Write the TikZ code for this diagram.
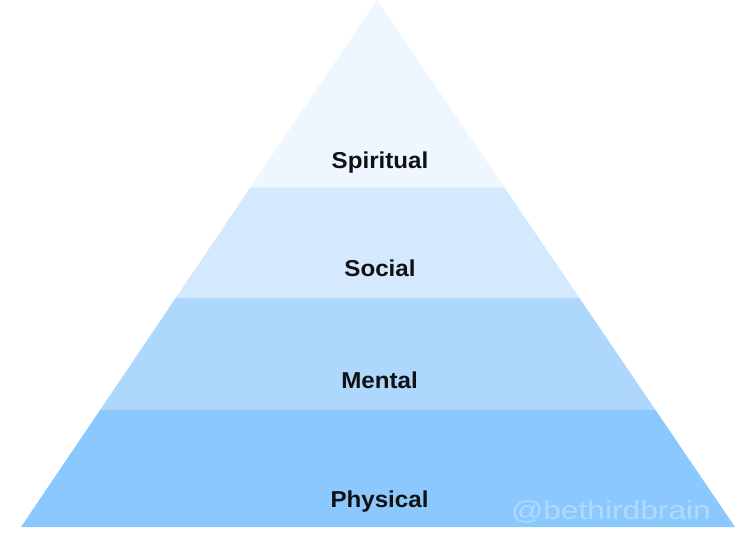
\documentclass[tikz,border=0pt]{standalone}
\usepackage{fontspec}
\setmainfont{Liberation Sans}
\newfontfamily\layerfont[FakeStretch=1.05]{Liberation Sans}
\newfontfamily\markfont[FakeStretch=1.22]{Liberation Sans}
\usepackage{xcolor}
\usepackage{tikz}
\usetikzlibrary{calc}

\definecolor{spiritcol}{HTML}{EEF6FF}
\definecolor{socialcol}{HTML}{D4E9FE}
\definecolor{mentalcol}{HTML}{ADD7FD}
\definecolor{physcol}{HTML}{8AC8FE}
\definecolor{labelcol}{HTML}{111111}

\begin{document}
\begin{tikzpicture}[x=1pt,y=-1pt,
    layer/.style={font=\layerfont\bfseries\fontsize{23}{27}\selectfont,
        text=labelcol, anchor=base, inner sep=0pt},
    watermark/.style={font=\markfont\fontsize{26}{30}\selectfont,
        text=white, text opacity=0.32, anchor=base, inner sep=0pt}]
    \useasboundingbox (0,0) rectangle (752,546);

    % Corners of the pyramid
    \coordinate (apex) at (377,0);
    \coordinate (bl) at (21,527);
    \coordinate (br) at (735,527);

    % Bands, top to bottom (heights in px from the apex)
    \foreach \ya/\yb/\col in {0/187.5/spiritcol, 187.5/297.5/socialcol,
                              297.5/410/mentalcol, 410/527/physcol} {
        \fill[\col] ($(apex)!{\ya/527}!(bl)$) -- ($(apex)!{\yb/527}!(bl)$)
            -- ($(apex)!{\yb/527}!(br)$) -- ($(apex)!{\ya/527}!(br)$) -- cycle;
    }

    % Band labels
    \node[layer] (spiritual) at (380,168) {Spiritual};
    \node[layer] (social) at (380,276.5) {Social};
    \node[layer] (mental) at (379.5,388) {Mental};
    \node[layer] (physical) at (379.5,507.5) {Physical};

    % Handle
    \node[watermark] (handle) at (611,519) {@bethirdbrain};
\end{tikzpicture}
\end{document}
